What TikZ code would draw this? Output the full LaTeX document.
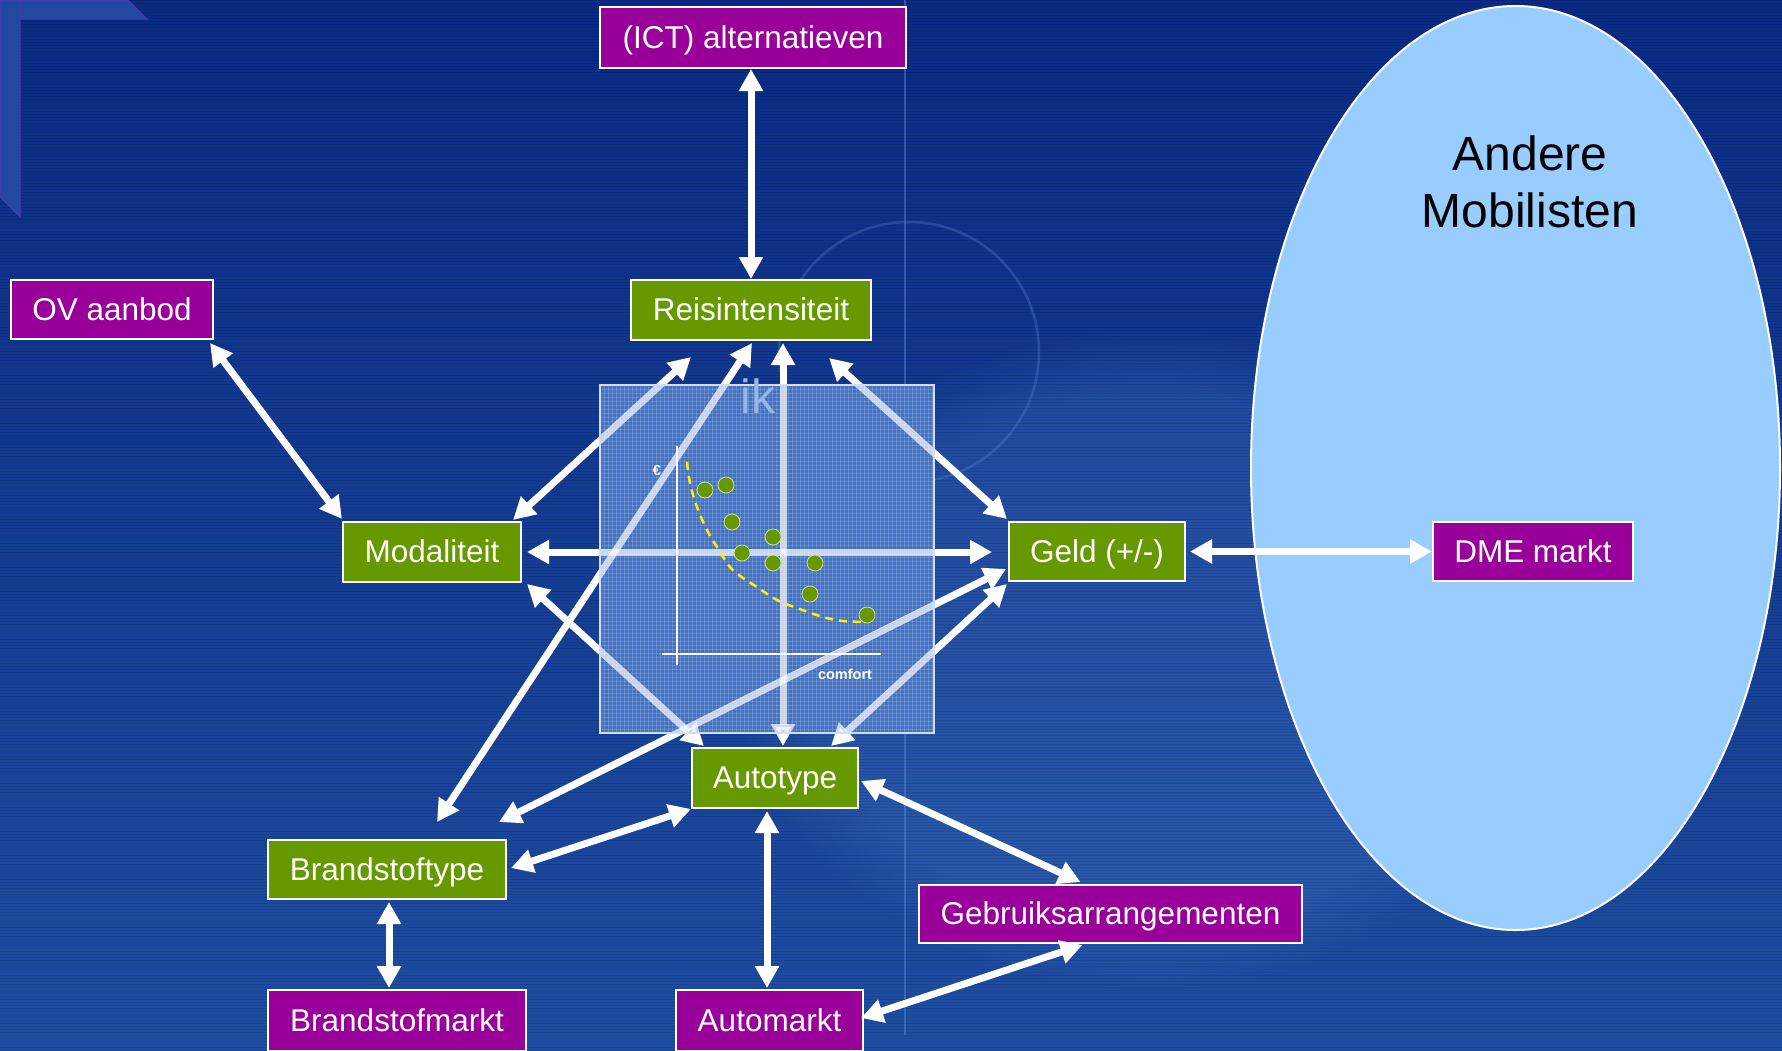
\documentclass[tikz,border=0pt]{standalone}
\usepackage{fontspec}
\setmainfont{Liberation Sans}
\usetikzlibrary{arrows.meta,calc,fadings}
\pgfdeclarelayer{background}
\pgfsetlayers{background,main}

\definecolor{bgtop}{RGB}{10,42,132}
\definecolor{bgbot}{RGB}{30,78,163}
\definecolor{boxpurple}{RGB}{153,0,153}
\definecolor{boxgreen}{RGB}{102,153,0}
\definecolor{ovalblue}{RGB}{153,204,255}
\definecolor{panel}{RGB}{70,114,192}
\definecolor{panelrim}{RGB}{205,222,245}
\definecolor{iktext}{RGB}{150,182,232}
\definecolor{yellowdash}{RGB}{255,240,0}
\definecolor{stripdeco}{RGB}{36,72,160}
\definecolor{stripedge}{RGB}{72,60,175}
\definecolor{ringblue}{RGB}{90,140,215}
\definecolor{swirl}{RGB}{70,120,200}

\tikzset{
  box/.style={draw=white, line width=2pt, text=white, inner sep=0pt,
    font=\fontsize{31.5}{36}\selectfont, text height=28.5pt, text depth=6.7pt},
  actor/.style={box, fill=boxpurple},
  factor/.style={box, fill=boxgreen},
  link/.style={line width=7pt,
    {Triangle[width=23pt,length=22pt]}-{Triangle[width=23pt,length=22pt]}},
  dot/.style={circle, fill=boxgreen, draw={rgb,255:red,205;green,225;blue,160},
    line width=0.8pt, inner sep=0pt, minimum size=16pt},
  axisline/.style={white, line cap=butt},
  small/.style={text=white, inner sep=0pt, font=\bfseries\fontsize{14.5}{16}\selectfont},
}

% all connectors between the nodes, drawn with extra options #1
\newcommand\linkset[1]{%
  \draw[link,#1] (ict.south -| reis.north) -- (reis.north);
  \draw[link,#1] ($(ov.south east)+(-4,3)$) -- ($(moda.north west)+(0,-2)$);
  \draw[link,#1] ($(moda.north east)+(-9,-1)$) -- ($(reis.south west)+(61,16)$);
  \draw[link,#1] ($(moda.east)+(5,0)$) -- ($(geld.west)+(-16,0.5)$);
  \draw[link,#1] ($(moda.south east)+(5,1)$) -- ($(auto.north west)+(13,-1)$);
  \draw[link,#1] ($(reis.south east)+(-43,17)$) -- ($(geld.north west)+(-1,-2)$);
  \draw[link,#1] ($(reis.south)+(32,2)$) -- ($(auto.north)+(8,-1)$);
  \draw[link,#1] ($(reis.south)+(1,2)$) -- ($(bstype.north)+(50,-17)$);
  \draw[link,#1] ($(geld.south west)+(-2,-13)$) -- ($(bstype.north east)+(-8,-17)$);
  \draw[link,#1] ($(geld.south west)+(-1,2)$) -- ($(auto.north east)+(-28,-1)$);
  \draw[link,#1] ($(geld.east)+(4,0)$) -- (dme.west);
  \draw[link,#1] (auto.south west) -- ($(bstype.east)+(4,-1.5)$);
  \draw[link,#1] ($(auto.south)+(-8,2)$) -- ($(automarkt.north)+(-2.5,-1)$);
  \draw[link,#1] ($(auto.east)+(2,3)$) -- ($(gebr.north)+(-30,-2)$);
  \draw[link,#1] ($(gebr.south)+(-28,1)$) -- ($(automarkt.east)+(-3,-2.5)$);
  \draw[link,#1] ($(bstype.south)+(2,2)$) -- ($(bsmarkt.north)+(-8,-1)$);
}

\begin{document}
\begin{tikzpicture}[x=1pt,y=-1pt]
\useasboundingbox (0,0) rectangle (1782,1050);

% ---------- boxes ----------
\node[actor,  minimum width=306pt, minimum height=61pt] (ict)       at (753,37.5)   {(ICT) alternatieven};
\node[factor, minimum width=240pt, minimum height=60pt] (reis)      at (751,310)    {Reisintensiteit};
\node[actor,  minimum width=202pt, minimum height=59pt] (ov)        at (112,309.5)  {OV aanbod};
\node[factor, minimum width=178pt, minimum height=60pt] (moda)      at (432,552)    {Modaliteit};
\node[factor, minimum width=176pt, minimum height=59pt] (geld)      at (1097,551.5) {Geld (+/-)};
\node[actor,  minimum width=200pt, minimum height=59pt] (dme)       at (1533,551.5) {DME markt};
\node[factor, minimum width=166pt, minimum height=60pt] (auto)      at (775,778)    {Autotype};
\node[factor, minimum width=238pt, minimum height=59pt] (bstype)    at (387,869.5)  {Brandstoftype};
\node[actor,  minimum width=383pt, minimum height=58pt] (gebr)      at (1110.5,914) {Gebruiksarrangementen};
\node[actor,  minimum width=258pt, minimum height=61pt] (bsmarkt)   at (397,1020.5) {Brandstofmarkt};
\node[actor,  minimum width=187pt, minimum height=61pt] (automarkt) at (769.5,1020.5) {Automarkt};

% ---------- backdrop ----------
\begin{pgfonlayer}{background}
  \shade[top color=bgtop, bottom color=bgbot] (0,0) rectangle (1782,1050);
  \fill[swirl, opacity=0.3, path fading=circle with fuzzy edge 20 percent]
    (1150,660) ellipse [x radius=420, y radius=330];
  \foreach \sy in {0,3,...,1050}
    \draw[black, opacity=0.10, line width=1pt] (0,\sy) -- (1782,\sy);
  % corner ornament
  \filldraw[fill=stripdeco, draw=stripedge, line width=1pt]
    (0,0) -- (20,0) -- (20,217) -- (0,197) -- cycle;
  \filldraw[fill=stripdeco, draw=stripedge, line width=1pt]
    (20,0) -- (128,0) -- (147,19) -- (20,19) -- cycle;
  % faint ring and rule
  \draw[ringblue, opacity=0.3, line width=2.5pt] (909,352) circle [radius=130];
  \draw[ringblue, opacity=0.45, line width=2pt] (905,0) -- (905,1035);
  % other travellers
  \draw[white, line width=2pt, fill=ovalblue] (1515.5,468) ellipse [x radius=264.5, y radius=462];
\end{pgfonlayer}

\node[text=black, align=center, inner sep=0pt, font=\fontsize{48}{57}\selectfont]
  (andere) at (1530,182) {Andere\\Mobilisten};

% ---------- connectors ----------
\linkset{white}

% ---------- personal panel ----------
\fill[panel] (600,385) rectangle (934,733);
\begin{scope}[white, opacity=0.16, line width=0.6pt]
  \foreach \gx in {604,608,...,932} \draw (\gx,385) -- (\gx,733);
  \foreach \gy in {389,393,...,731} \draw (600,\gy) -- (934,\gy);
\end{scope}
\begin{scope}
  \clip (600,385) rectangle (934,733);
  \linkset{white, opacity=0.7}
\end{scope}
\draw[panelrim, line width=1.5pt] (600,385) rectangle (934,733);

\node[text=iktext, anchor=base, inner sep=0pt, font=\fontsize{48}{50}\selectfont] (ik) at (758,413) {ik};

% cost / comfort chart
\coordinate (yaxtop) at (677,446);
\coordinate (yaxbot) at (677,665);
\coordinate (xaxl) at (662,654);
\coordinate (xaxr) at (881,654);
\draw[axisline, line width=2pt] (yaxtop) -- (yaxbot);
\draw[axisline, line width=1.2pt] (xaxl) -- (xaxr);
\node[small] (euro) at (657,470) {€};
\node[small] (comfort) at (845,674) {comfort};

\draw[yellowdash, line width=2.5pt, dash pattern=on 8pt off 6pt]
  plot[smooth, tension=0.6] coordinates {(687,462) (690,483) (697,507) (707,530)
  (717,547) (730,567) (743,578) (757,587) (777,600) (797,608) (823,617)
  (843,621) (867,622)};

\node[dot] (d1) at (705,490) {};
\node[dot] (d2) at (726,485) {};
\node[dot] (d3) at (732,522) {};
\node[dot] (d4) at (773,537) {};
\node[dot] (d5) at (742,553) {};
\node[dot] (d6) at (773,563) {};
\node[dot] (d7) at (815,563) {};
\node[dot] (d8) at (810,594) {};
\node[dot] (d9) at (867,615) {};
\end{tikzpicture}
\end{document}
